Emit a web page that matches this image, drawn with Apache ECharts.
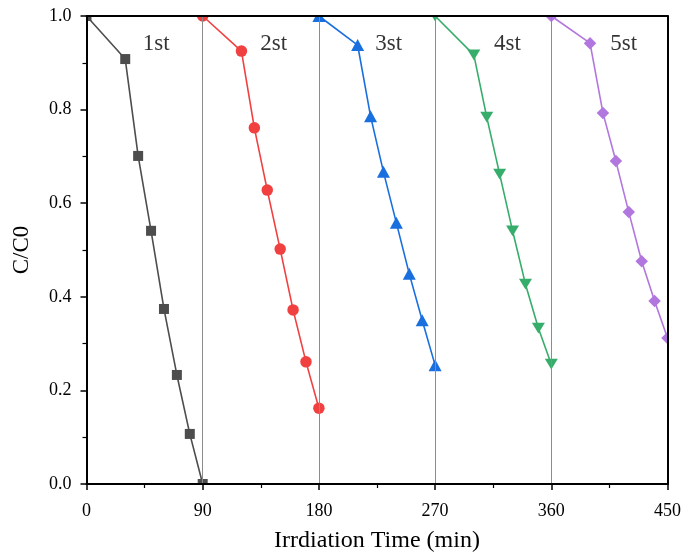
<!DOCTYPE html>
<html>
<head>
<meta charset="utf-8">
<script src="https://cdn.jsdelivr.net/npm/echarts@6/dist/echarts.min.js"></script>
<style>
  html, body { margin: 0; padding: 0; background: #fff; }
  #chart { width: 685px; height: 553px; }
</style>
</head>
<body>
<div id="chart"></div>
<script>
// Irradiation time (min) for each photocatalytic cycle
const time1 = [0, 30, 40, 50, 60, 70, 80, 90];
const time2 = [90, 120, 130, 140, 150, 160, 170, 180];
const time3 = [180, 210, 220, 230, 240, 250, 260, 270];
const time4 = [270, 300, 310, 320, 330, 340, 350, 360];
const time5 = [360, 390, 400, 410, 420, 430, 440, 450];

// C/C0 for each cycle
const cycle1 = [1.0, 0.908, 0.701, 0.541, 0.374, 0.233, 0.107, 0.0];
const cycle2 = [1.0, 0.925, 0.761, 0.628, 0.502, 0.372, 0.261, 0.162];
const cycle3 = [1.0, 0.938, 0.786, 0.667, 0.558, 0.449, 0.350, 0.254];
const cycle4 = [1.0, 0.917, 0.784, 0.662, 0.541, 0.427, 0.333, 0.256];
const cycle5 = [1.0, 0.942, 0.793, 0.690, 0.581, 0.476, 0.391, 0.312];

// Cycle annotations
const cycleNames = ['1st', '2st', '3st', '4st', '5st'];
const cycleNameX = [54, 145, 234, 326, 416];
const cycleNameY = 0.94;

const colors = ['#4d4d4d', '#f14040', '#1a6fdf', '#37ad6b', '#b177de'];
const symbols = ['rect', 'circle', 'triangle', 'path://M0,0 L10,0 L5,9 Z', 'diamond'];
const symbolSizes = [10, 11.5, [13, 12], [13, 12], 12.5];

const times = [time1, time2, time3, time4, time5];
const cycles = [cycle1, cycle2, cycle3, cycle4, cycle5];

const chart = echarts.init(document.getElementById('chart'));

const gridL = 86.5, gridR = 17.5, gridT = 16, gridB = 69;
const W = 685, H = 553;

const font = '"Liberation Serif", "Times New Roman", serif';

const series = cycles.map((vals, i) => ({
  type: 'line',
  name: cycleNames[i],
  data: vals.map((v, j) => [times[i][j], v]),
  symbol: symbols[i],
  symbolSize: symbolSizes[i],
  symbolKeepAspect: true,
  lineStyle: { color: colors[i], width: 1.6 },
  itemStyle: { color: colors[i] },
  clip: false,
  z: 2
}));

series.push({
  type: 'scatter',
  data: cycleNames.map((n, i) => [cycleNameX[i], cycleNameY, n]),
  symbolSize: 0,
  silent: true,
  label: {
    show: true,
    position: [0, 0],
    align: 'center',
    verticalAlign: 'middle',
    formatter: p => p.value[2],
    color: '#000',
    textBorderWidth: 0,
    fontFamily: font,
    fontSize: 23
  },
  z: 3
});

const axisCommon = {
  z: 10,
  axisLine: { show: true, lineStyle: { color: '#000', width: 2 } },
  axisTick: { show: true, inside: false, length: 6, lineStyle: { color: '#000', width: 1.5 } },
  minorTick: { show: true, splitNumber: 2, length: 4, lineStyle: { color: '#000', width: 1.2 } },
  axisLabel: { color: '#000', fontFamily: font, fontSize: 18 },
  nameTextStyle: { color: '#000', fontFamily: font, fontSize: 24 }
};

chart.setOption({
  animation: false,
  backgroundColor: '#fff',
  grid: {
    left: gridL, right: gridR, top: gridT, bottom: gridB,
    containLabel: false,
    outerBoundsMode: 'none'
  },
  graphic: [
    // white margins so markers on the frame are cut at the plot edge
    { type: 'rect', z: 5, silent: true, shape: { x: 0, y: 0, width: W, height: gridT }, style: { fill: '#fff' } },
    { type: 'rect', z: 5, silent: true, shape: { x: 0, y: H - gridB, width: W, height: gridB }, style: { fill: '#fff' } },
    { type: 'rect', z: 5, silent: true, shape: { x: 0, y: 0, width: gridL, height: H }, style: { fill: '#fff' } },
    { type: 'rect', z: 5, silent: true, shape: { x: W - gridR, y: 0, width: gridR, height: H }, style: { fill: '#fff' } }
  ],
  xAxis: [
    Object.assign({}, axisCommon, {
      type: 'value',
      min: 0, max: 450, interval: 90,
      name: 'Irrdiation Time (min)',
      nameLocation: 'middle',
      nameGap: 45,
      axisLabel: Object.assign({}, axisCommon.axisLabel, { margin: 18 }),
      splitLine: { show: true, lineStyle: { color: '#8c8c8c', width: 1 } }
    }),
    {
      type: 'value', position: 'top', min: 0, max: 450, z: 10,
      axisLine: { show: true, onZero: false, lineStyle: { color: '#000', width: 2 } },
      axisTick: { show: false }, axisLabel: { show: false }, splitLine: { show: false }
    }
  ],
  yAxis: [
    Object.assign({}, axisCommon, {
      type: 'value',
      min: 0, max: 1, interval: 0.2,
      name: 'C/C0',
      nameLocation: 'middle',
      nameGap: 53,
      nameTextStyle: Object.assign({}, axisCommon.nameTextStyle, { fontSize: 23 }),
      axisLabel: Object.assign({}, axisCommon.axisLabel, { margin: 15, formatter: v => v.toFixed(1) }),
      splitLine: { show: false }
    }),
    {
      type: 'value', position: 'right', min: 0, max: 1, z: 10,
      axisLine: { show: true, onZero: false, lineStyle: { color: '#000', width: 2 } },
      axisTick: { show: false }, axisLabel: { show: false }, splitLine: { show: false }
    }
  ],
  series: series
});
</script>
</body>
</html>
